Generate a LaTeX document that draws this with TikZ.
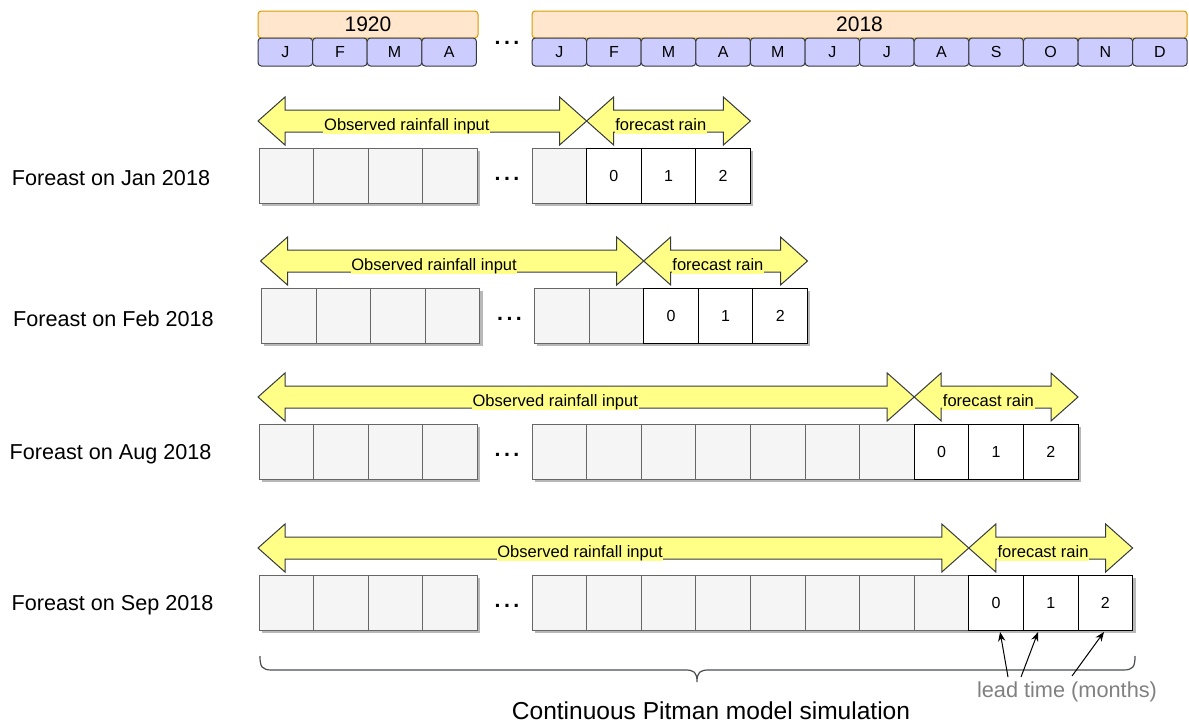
\documentclass[tikz,border=0pt]{standalone}
\usepackage{fontspec}
\setmainfont{Liberation Sans}
\usetikzlibrary{shadows,arrows.meta}

\definecolor{yearfill}{HTML}{FFE6CC}
\definecolor{yearline}{HTML}{D79B00}
\definecolor{monthfill}{HTML}{CCCCFF}
\definecolor{darkline}{HTML}{36393D}
\definecolor{obsfill}{HTML}{F5F5F5}
\definecolor{obsline}{HTML}{666666}
\definecolor{arrowfill}{HTML}{FFFF88}
\definecolor{leadgrey}{HTML}{808080}

\tikzset{
  yearbox/.style={draw=yearline, fill=yearfill, rounded corners=2.5pt, line width=0.75pt,
    minimum height=20.25pt, inner sep=0pt, outer sep=0pt, anchor=north west,
    font=\fontsize{15.75}{18}\selectfont},
  monthbox/.style={draw=darkline, fill=monthfill, rounded corners=2.5pt, line width=0.75pt,
    minimum width=40.95pt, minimum height=21pt, inner sep=0pt, outer sep=0pt,
    anchor=north west, font=\fontsize{12}{14}\selectfont},
  cellshadow/.style={drop shadow={shadow xshift=2.2pt, shadow yshift=-2.2pt, fill=black, opacity=0.28}},
  obscell/.style={cellshadow, draw=obsline, fill=obsfill, line width=0.75pt,
    minimum width=40.95pt, minimum height=41.25pt, inner sep=0pt, outer sep=0pt,
    anchor=north west},
  fcstcell/.style={obscell, draw=black, fill=white, font=\fontsize{12}{14}\selectfont},
  rainarrow/.style={draw=darkline, fill=arrowfill, line width=0.75pt, line join=miter},
  arrowlabel/.style={fill=arrowfill, inner xsep=0.5pt, inner ysep=0.6pt, text depth=0.25em,
    anchor=base, font=\fontsize{12.4}{14}\selectfont},
  rowlabel/.style={inner sep=0pt, font=\fontsize{16.2}{19}\selectfont},
  dots/.style={inner sep=0pt, font=\bfseries\fontsize{16}{18}\selectfont},
  leadarrow/.style={-{Stealth[length=7pt,width=5.5pt]}, line width=0.75pt, black},
  bracestyle/.style={draw=darkline!90, line width=0.9pt},
}

% One forecast row: #1 name, #2 x offset, #3 top of the cells,
% #4 observed months of 2018, #5 row label, #6 label centre x
\newcommand\forecastrow[6]{%
  \foreach \k in {0,...,3}
    \node[obscell] (#1-a\k) at ({259+#2+54.6*\k},#3) {};
  \node[dots] (#1-dots) at ({507+#2},{#3+31}) {.\kern2.6pt.\kern2.6pt.};
  \foreach \k in {1,...,#4}
    \node[obscell] (#1-b\k) at ({532+#2+54.6*(\k-1)},#3) {};
  \foreach \q in {0,1,2}
    \node[fcstcell] (#1-f\q) at ({532+#2+54.6*(#4+\q)},#3) {\q};
  \pgfmathsetmacro\xa{258+#2}
  \pgfmathsetmacro\xb{532+#2+54.6*#4}
  \pgfmathsetmacro\xc{\xb+3*54.6}
  \pgfmathsetmacro\yc{#3-27}
  \path[rainarrow] (\xa,\yc) -- ({\xa+27},{\yc-24}) -- ({\xa+27},{\yc-11})
    -- ({\xb-27},{\yc-11}) -- ({\xb-27},{\yc-24}) -- (\xb,\yc)
    -- ({\xb-27},{\yc+24}) -- ({\xb-27},{\yc+11}) -- ({\xa+27},{\yc+11})
    -- ({\xa+27},{\yc+24}) -- cycle;
  \path[rainarrow] (\xb,\yc) -- ({\xb+27},{\yc-24}) -- ({\xb+27},{\yc-11})
    -- ({\xc-27},{\yc-11}) -- ({\xc-27},{\yc-24}) -- (\xc,\yc)
    -- ({\xc-27},{\yc+24}) -- ({\xc-27},{\yc+11}) -- ({\xb+27},{\yc+11})
    -- ({\xb+27},{\yc+24}) -- cycle;
  \node[arrowlabel] (#1-obs) at ({\xa+0.453*(\xb-\xa)},{\yc+9}) {Observed rainfall input};
  \node[arrowlabel] (#1-fc) at ({\xb+0.453*(\xc-\xb)},{\yc+9}) {forecast rain};
  \node[rowlabel] (#1-label) at (#6,{#3+30.5}) {#5};
}

\begin{document}
\begin{tikzpicture}[x=0.75pt, y=-0.75pt]
\useasboundingbox (0,0) rectangle (1189,728);

% calendar header
\node[yearbox, minimum width=165pt] (y1920) at (258,11) {1920};
\foreach \m [count=\i from 0] in {J,F,M,A}
  \node[monthbox] (m1920-\i) at ({258+54.6*\i},38) {\m};
\node[dots] (hdots) at (507,43) {.\kern2.6pt.\kern2.6pt.};
\node[yearbox, minimum width=491.25pt] (y2018) at (532,11) {2018};
\foreach \m [count=\i from 0] in {J,F,M,A,M,J,J,A,S,O,N,D}
  \node[monthbox] (m2018-\i) at ({532+54.6*\i},38) {\m};

% forecast rows
\forecastrow{jan}{0}{148}{1}{Foreast on Jan 2018}{111}
\forecastrow{feb}{2.5}{288}{2}{Foreast on Feb 2018}{113.5}
\forecastrow{aug}{0}{424}{7}{Foreast on Aug 2018}{110.5}
\forecastrow{sep}{0}{575}{8}{Foreast on Sep 2018}{112.5}

% brace under the whole simulation
\coordinate (brace-l) at (260,656);
\coordinate (brace-r) at (1135,656);
\draw[bracestyle] (brace-l) .. controls (260,667) and (262,670) .. (272,670)
  -- (685,670) .. controls (694,670) and (697,672) .. (697,682)
  .. controls (697,672) and (700,670) .. (709,670)
  -- (1123,670) .. controls (1133,670) and (1135,667) .. (brace-r);
\node[inner sep=0pt, font=\fontsize{18.4}{22}\selectfont] (sim) at (711,711)
  {Continuous Pitman model simulation};

% lead time annotation
\node[inner sep=0pt, text=leadgrey, font=\fontsize{16.3}{19}\selectfont] (lead) at (1067,692)
  {lead time (months)};
\coordinate (lt0) at (1008,677);
\coordinate (lt1) at (1021,677);
\coordinate (lt2) at (1072,676);
\draw[leadarrow] (lt0) -- ([xshift=3pt,yshift=-1.5pt]sep-f0.south);
\draw[leadarrow] (lt1) -- ([xshift=-9.5pt,yshift=-1.5pt]sep-f1.south);
\draw[leadarrow] (lt2) -- ([xshift=-1pt,yshift=-1.5pt]sep-f2.south);
\end{tikzpicture}
\end{document}
